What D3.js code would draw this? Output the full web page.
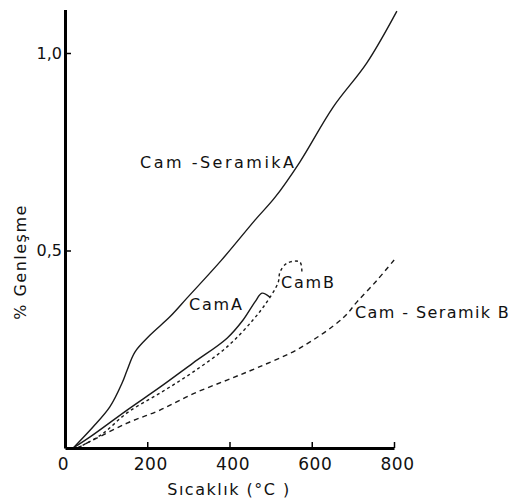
<!DOCTYPE html>
<html>
<head>
<meta charset="utf-8">
<script src="https://cdn.jsdelivr.net/npm/d3@7"></script>
<style>
  html, body { margin: 0; padding: 0; background: #fff; }
  svg { display: block; }
  text { font-family: "DejaVu Sans", sans-serif; fill: #111; }
</style>
</head>
<body>
<svg id="chart" width="515" height="500"></svg>
<script>
// ---- data (temperature °C, % expansion) ----
const xTickValues = [0, 200, 400, 600, 800];
const xTickLabels = ["0", "200", "400", "600", "800"];
const yTickValues = [0.5, 1.0];
const yTickLabels = ["0,5", "1,0"];

const seriesNames = ["Cam -SeramikA", "CamA", "CamB", "Cam - Seramik B"];

const camSeramikA_T = [20, 68, 109, 139, 151, 170, 207, 255, 297, 380, 462, 511, 571, 652, 734, 807];
const camSeramikA_V = [0, 0.053, 0.104, 0.165, 0.197, 0.243, 0.286, 0.332, 0.380, 0.475, 0.577, 0.635, 0.724, 0.863, 0.975, 1.106];

const camA_T = [20, 61, 151, 231, 311, 394, 433, 462, 479, 498];
const camA_V = [0, 0.028, 0.096, 0.154, 0.215, 0.278, 0.324, 0.370, 0.392, 0.382];

const camB_T = [30, 90, 151, 231, 311, 394, 457, 491, 518, 523, 540, 571, 576];
const camB_V = [0, 0.035, 0.089, 0.139, 0.192, 0.256, 0.324, 0.370, 0.418, 0.446, 0.468, 0.471, 0.443];

const camSeramikB_T = [30, 68, 151, 231, 311, 394, 467, 571, 676, 710, 759, 802];
const camSeramikB_V = [0, 0.020, 0.063, 0.096, 0.137, 0.172, 0.203, 0.253, 0.329, 0.370, 0.425, 0.478];

const yAxisMax = 1.11;

// ---- layout ----
const svg = d3.select("#chart");
const x = d3.scaleLinear().domain([0, 800]).range([65, 394]);
const y = d3.scaleLinear().domain([0, 1]).range([448, 53]);
const yAx = y.copy().domain([0, yAxisMax]).range([y(0), y(yAxisMax)]);

const toPts = (T, V) => T.map((t, i) => [t, V[i]]);
const line = d3.line().x(d => x(d[0])).y(d => y(d[1])).curve(d3.curveCatmullRom.alpha(0.5));

const series = [
  { pts: toPts(camSeramikA_T, camSeramikA_V), dash: null },
  { pts: toPts(camA_T, camA_V), dash: null },
  { pts: toPts(camB_T, camB_V), dash: "3,3" },
  { pts: toPts(camSeramikB_T, camSeramikB_V), dash: "5,4" }
];

svg.append("g").selectAll("path").data(series).join("path")
  .attr("d", d => line(d.pts))
  .attr("fill", "none")
  .attr("stroke", "#1a1a1a")
  .attr("stroke-width", 1.4)
  .attr("stroke-dasharray", d => d.dash);

// ---- axes ----
const fs = 17;
const xAxis = d3.axisBottom(x).tickValues(xTickValues)
  .tickFormat((d, i) => xTickLabels[i]).tickSizeInner(-6).tickSizeOuter(0).tickPadding(10);
const gx = svg.append("g").attr("transform", `translate(0,${y(0)})`).call(xAxis);
gx.select(".domain").attr("stroke", "#000").attr("stroke-width", 3);
gx.selectAll(".tick line").attr("stroke", "#000").attr("stroke-width", 1.5);
gx.selectAll(".tick text").attr("font-size", fs).attr("letter-spacing", 0.5)
  .attr("font-family", "DejaVu Sans").attr("fill", "#111")
  .attr("dx", d => d === 0 ? -2 : 3);

const yAxis = d3.axisLeft(yAx).tickValues(yTickValues)
  .tickFormat((d, i) => yTickLabels[i]).tickSizeInner(-6).tickSizeOuter(0).tickPadding(3);
const gy = svg.append("g").attr("transform", `translate(${x(0)},0)`).call(yAxis);
gy.select(".domain").attr("stroke", "#000").attr("stroke-width", 3);
gy.selectAll(".tick line").attr("stroke", "#000").attr("stroke-width", 1.5);
gy.selectAll(".tick text").attr("font-size", 16).attr("letter-spacing", 0)
  .attr("font-family", "DejaVu Sans").attr("fill", "#111");

// ---- axis titles ----
svg.append("text")
  .attr("x", 229).attr("y", 489).attr("dy", "0.35em")
  .attr("text-anchor", "middle").attr("font-size", 16).attr("letter-spacing", 1.5)
  .text("Sıcaklık (°C )");

svg.append("text")
  .attr("transform", `translate(20,262) rotate(-90)`)
  .attr("dy", "0.35em")
  .attr("text-anchor", "middle").attr("font-size", 16).attr("letter-spacing", 1.5)
  .text("% Genleşme");

// ---- series labels ----
const labelPos = [
  [140, 162], [189, 304], [281, 282], [355, 312]
];
const labelSpacing = [2.5, 1.8, 1.8, 1.4];
svg.append("g").selectAll("text").data(seriesNames).join("text")
  .attr("x", (d, i) => labelPos[i][0])
  .attr("y", (d, i) => labelPos[i][1])
  .attr("dy", "0.35em")
  .attr("font-size", 16)
  .attr("letter-spacing", (d, i) => labelSpacing[i])
  .text(d => d);
</script>
</body>
</html>
